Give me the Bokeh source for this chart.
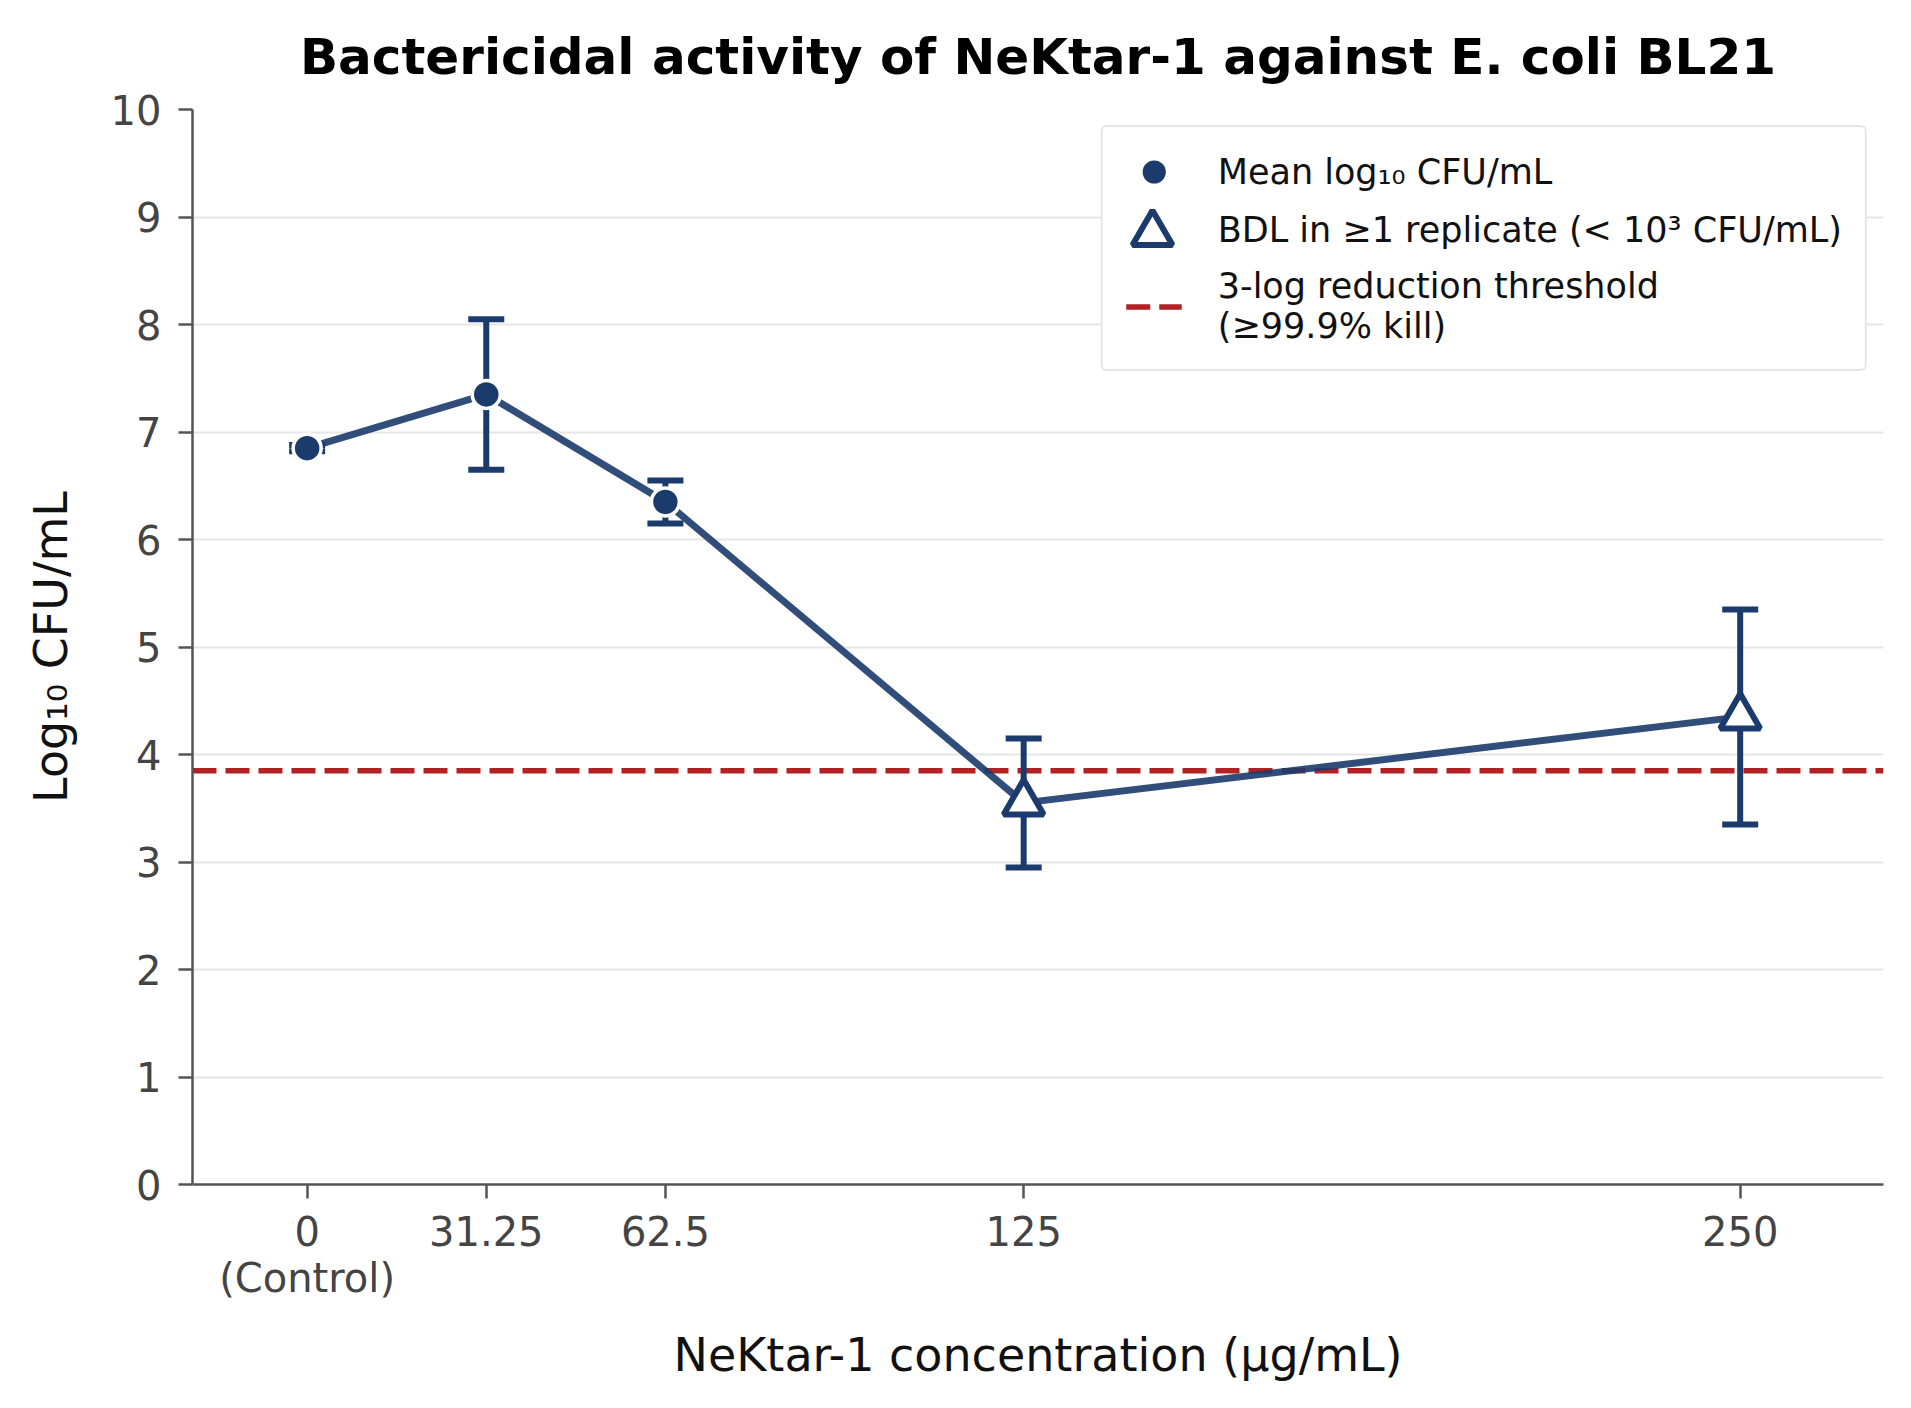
from bokeh.plotting import figure
from bokeh.models import Range1d, FixedTicker, Legend, LegendItem, ColumnDataSource
from bokeh.embed import file_html
from bokeh.resources import INLINE

# ---- data ----
concentrations = [0, 31.25, 62.5, 125, 250]
tick_labels = ["0\n(Control)", "31.25", "62.5", "125", "250"]
mean_log_cfu = [6.85, 7.35, 6.35, 3.55, 4.35]
sd_log_cfu = [0.03, 0.70, 0.20, 0.60, 1.00]
bdl_flag = [False, False, False, True, True]
y_ticks = list(range(0, 11))
x_limits = (-20, 275)
y_limits = (0, 10)
threshold = mean_log_cfu[0] - 3.0

title_text = "Bactericidal activity of NeKtar-1 against E. coli BL21"
x_label = "NeKtar-1 concentration (\u00b5g/mL)"
y_label = "Log\u2081\u2080 CFU/mL"
legend_labels = ["Mean log\u2081\u2080 CFU/mL",
                 "BDL in \u22651 replicate (< 10\u00b3 CFU/mL)",
                 "3-log reduction threshold\n(\u226599.9% kill)"]

NAVY = "#1b3b6d"
RED = "#b22222"
FONT = "DejaVu Sans"

lo = [m - s for m, s in zip(mean_log_cfu, sd_log_cfu)]
hi = [m + s for m, s in zip(mean_log_cfu, sd_log_cfu)]

src_all = ColumnDataSource(dict(x=concentrations, y=mean_log_cfu, lo=lo, hi=hi))
src_circ = ColumnDataSource(dict(
    x=[c for c, b in zip(concentrations, bdl_flag) if not b],
    y=[m for m, b in zip(mean_log_cfu, bdl_flag) if not b]))
src_tri = ColumnDataSource(dict(
    x=[c for c, b in zip(concentrations, bdl_flag) if b],
    y=[m for m, b in zip(mean_log_cfu, bdl_flag) if b]))
src_thr = ColumnDataSource(dict(x=list(x_limits), y=[threshold, threshold]))

p = figure(width=1895, height=1392, output_backend="svg", toolbar_location=None,
           x_range=Range1d(*x_limits), y_range=Range1d(*y_limits),
           min_border_left=192, min_border_right=12,
           min_border_top=109, min_border_bottom=208,
           background_fill_color="white", border_fill_color="white")
p.outline_line_color = None

# title
p.title.text = title_text
p.title.text_font = FONT
p.title.text_font_size = "50px"
p.title.text_font_style = "bold"
p.title.text_color = "black"
p.title.align = "center"
p.title.standoff = 48

# axes
for ax in (p.xaxis[0], p.yaxis[0]):
    ax.axis_line_color = "#555555"
    ax.axis_line_width = 2.5
    ax.major_tick_line_color = "#555555"
    ax.major_tick_line_width = 2.5
    ax.major_tick_out = 14
    ax.major_tick_in = 0
    ax.minor_tick_line_color = None
    ax.major_label_text_font = FONT
    ax.major_label_text_font_size = "40px"
    ax.major_label_text_color = "#444444"
    ax.axis_label_text_font = FONT
    ax.axis_label_text_font_size = "46px"
    ax.axis_label_text_font_style = "normal"
    ax.axis_label_text_color = "#111111"

p.xaxis.ticker = FixedTicker(ticks=concentrations)
p.xaxis.major_label_overrides = {c: t for c, t in zip(concentrations, tick_labels)}
p.xaxis.major_label_standoff = 10
p.xaxis.major_label_text_line_height = 1.0
p.xaxis.axis_label = x_label
p.xaxis.axis_label_standoff = 24

p.yaxis.ticker = FixedTicker(ticks=y_ticks)
p.yaxis.major_label_standoff = 17
p.yaxis.axis_label = y_label
p.yaxis.axis_label_standoff = 30

p.xgrid.visible = False
p.ygrid.ticker = FixedTicker(ticks=y_ticks)
p.ygrid.grid_line_color = "#e6e6e6"
p.ygrid.grid_line_width = 2

# threshold
r_thr = p.line("x", "y", source=src_thr, line_color=RED, line_width=5.5,
               line_dash="24 9")

# error bars
p.segment(x0="x", y0="lo", x1="x", y1="hi", source=src_all,
          line_color=NAVY, line_width=6)
p.scatter("x", "hi", source=src_all, marker="dash", size=36,
          line_color=NAVY, line_width=6)
p.scatter("x", "lo", source=src_all, marker="dash", size=36,
          line_color=NAVY, line_width=6)

# connecting line
p.line("x", "y", source=src_all, line_color=NAVY, line_width=7, line_alpha=0.9)

# markers
r_circ_leg = p.scatter("x", "y", source=src_circ, marker="circle", size=20,
                       fill_color=NAVY, line_color=NAVY, line_width=6)
r_circ = p.scatter("x", "y", source=src_circ, marker="circle", size=28,
                   fill_color=NAVY, line_color="white", line_width=3.5)
r_tri = p.scatter("x", "y", source=src_tri, marker="triangle", size=40,
                  fill_color="white", line_color=NAVY, line_width=6)
r_blank = p.scatter("x", "y", source=src_tri, marker="triangle", size=10,
                    fill_alpha=0, line_alpha=0)

legend_a = Legend(items=[
    LegendItem(label=legend_labels[0], renderers=[r_circ_leg]),
    LegendItem(label=legend_labels[1], renderers=[r_blank]),
    LegendItem(label=legend_labels[2], renderers=[r_thr]),
], location="top_right")
legend_a.margin = 16
legend_a.padding = 23
legend_a.spacing = 15
legend_a.glyph_width = 56
legend_a.glyph_height = 43
legend_a.label_standoff = 36
legend_a.label_text_font = FONT
legend_a.label_text_font_size = "35px"
legend_a.label_text_color = "#111111"
legend_a.border_line_color = "#cccccc"
legend_a.border_line_width = 2.5
legend_a.background_fill_color = "white"
legend_a.background_fill_alpha = 1.0
try:
    legend_a.border_radius = 6
except Exception:
    pass
p.add_layout(legend_a)

legend_b = Legend(items=[LegendItem(label=" ", renderers=[r_tri])],
                  location=(910, 901))
legend_b.margin = 0
legend_b.padding = 0
legend_b.spacing = 0
legend_b.glyph_width = 100
legend_b.glyph_height = 100
legend_b.label_standoff = 0
legend_b.label_width = 0
legend_b.label_height = 0
legend_b.label_text_font_size = "1px"
legend_b.border_line_color = None
legend_b.background_fill_alpha = 0
p.add_layout(legend_b)

open("out.html", "w").write(file_html(p, INLINE))
